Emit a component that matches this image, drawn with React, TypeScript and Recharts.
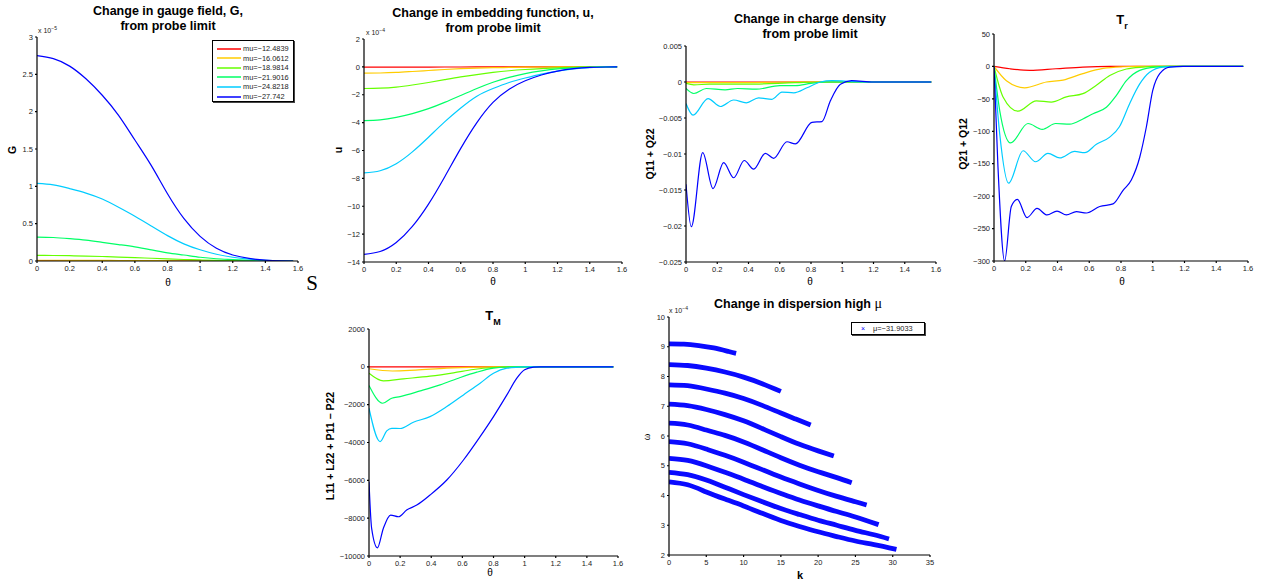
import React from 'react';
import { LineChart, Line, XAxis, YAxis } from 'recharts';

type Pt = [number, number];

// ---- shared --------------------------------------------------------------
const muLabels = ['mu=\u221212.4839', 'mu=\u221216.0612', 'mu=\u221218.9814', 'mu=\u221221.9016', 'mu=\u221224.8218', 'mu=\u221227.742'];
const muColors = ['#ff0000', '#ffcc00', '#66ff00', '#00ff66', '#00ccff', '#0000ff'];
const thetaTicks = [0, 0.2, 0.4, 0.6, 0.8, 1, 1.2, 1.4, 1.6];

// ---- panel 1: gauge field G (x 1e-5) ------------------------------------
const gTheta = [0, 0.1, 0.2, 0.3, 0.4, 0.5, 0.6, 0.7, 0.8, 0.9, 1.0, 1.1, 1.2, 1.3, 1.4, 1.5, 1.57];
const gRed = [0.001, 0.001, 0.001, 0.001, 0.001, 0.001, 0.001, 0.001, 0, 0, 0, 0, 0, 0, 0, 0, 0];
const gYellow = [0.01, 0.01, 0.009, 0.009, 0.008, 0.007, 0.006, 0.005, 0.004, 0.003, 0.002, 0.001, 0.001, 0, 0, 0, 0];
const gLime = [0.075, 0.074, 0.071, 0.066, 0.06, 0.053, 0.045, 0.037, 0.028, 0.02, 0.014, 0.009, 0.005, 0.002, 0.001, 0, 0];
const gGreen = [0.32, 0.315, 0.3, 0.28, 0.25, 0.22, 0.19, 0.15, 0.11, 0.08, 0.05, 0.03, 0.02, 0.01, 0.005, 0.001, 0];
const gCyan = [1.04, 1.02, 0.97, 0.91, 0.83, 0.72, 0.6, 0.47, 0.34, 0.23, 0.15, 0.09, 0.05, 0.025, 0.01, 0.003, 0];
const gBlue = [2.75, 2.71, 2.61, 2.44, 2.22, 1.95, 1.62, 1.28, 0.9, 0.57, 0.33, 0.17, 0.08, 0.035, 0.012, 0.003, 0];

// ---- panel 2: embedding function u (x 1e-4) -----------------------------
const uRed = [-0.02, -0.02, -0.02, -0.02, -0.015, -0.01, -0.01, -0.005, 0, 0, 0, 0, 0, 0, 0, 0, 0];
const uYellow = [-0.45, -0.44, -0.4, -0.33, -0.26, -0.19, -0.13, -0.09, -0.06, -0.04, -0.02, -0.01, 0, 0, 0, 0, 0];
const uLime = [-1.55, -1.53, -1.45, -1.3, -1.12, -0.92, -0.72, -0.55, -0.4, -0.28, -0.19, -0.12, -0.07, -0.03, -0.01, 0, 0];
const uGreen = [-3.85, -3.8, -3.62, -3.35, -3.0, -2.55, -2.05, -1.55, -1.1, -0.75, -0.48, -0.29, -0.15, -0.07, -0.025, -0.005, 0];
const uCyan = [-7.6, -7.45, -6.95, -6.1, -5.05, -3.95, -2.95, -2.1, -1.55, -1.12, -0.8, -0.52, -0.3, -0.14, -0.05, -0.01, 0];
const uBlue = [-13.45, -13.25, -12.6, -11.45, -9.85, -7.9, -5.85, -4.0, -2.55, -1.6, -1.0, -0.58, -0.3, -0.13, -0.04, -0.01, 0];

// ---- panel 3: charge density Q11 + Q22 ----------------------------------
const qRed: Pt[] = [[0, 0], [1.57, 0]];
const qYellow: Pt[] = [[0, -0.0001], [0.3, -0.0001], [0.7, 0], [1.57, 0]];
const qLime: Pt[] = [[0, -0.0002], [0.05, -0.0004], [0.15, -0.0003], [0.4, -0.0003], [0.7, -0.0001], [0.9, 0], [1.57, 0]];
const qGreen: Pt[] = [[0, -0.0009], [0.05, -0.0016], [0.13, -0.0009], [0.25, -0.0011], [0.33, -0.0009], [0.45, -0.001], [0.6, -0.0005], [0.7, -0.0005], [0.8, -0.0002], [0.9, 0], [1.57, 0]];
const qCyan: Pt[] = [[0, -0.003], [0.045, -0.0046], [0.141, -0.0023], [0.22, -0.0034], [0.305, -0.0025], [0.386, -0.0029], [0.465, -0.0022], [0.55, -0.0024], [0.614, -0.0014], [0.69, -0.0015], [0.774, -0.0008], [0.86, 0], [0.934, 0.0002], [1.03, 0.0001], [1.2, 0], [1.57, 0]];
const qBlue: Pt[] = [[0, -0.0142], [0.034, -0.0201], [0.107, -0.0098], [0.173, -0.0148], [0.241, -0.0112], [0.305, -0.0133], [0.373, -0.0109], [0.433, -0.0121], [0.508, -0.0099], [0.561, -0.0106], [0.646, -0.0083], [0.7, -0.0086], [0.806, -0.0056], [0.87, -0.0055], [0.924, -0.0026], [0.988, -0.0003], [1.06, 0.0002], [1.2, 0], [1.57, 0]];

// ---- panel 4: T_r  (Q21 + Q12) ------------------------------------------
const trRed: Pt[] = [[0, 0], [0.1, -3.6], [0.225, -6], [0.39, -3.6], [0.56, -1], [0.73, 0], [1.57, 0]];
const trYellow: Pt[] = [[0, 0], [0.078, -22], [0.193, -33], [0.33, -24], [0.435, -21], [0.56, -11], [0.687, -3], [0.81, -0.5], [0.9, 0], [1.57, 0]];
const trLime: Pt[] = [[0, 0], [0.057, -47], [0.151, -69], [0.267, -53], [0.361, -55], [0.456, -47], [0.56, -42], [0.645, -29], [0.729, -14], [0.834, -4], [0.94, -1], [1.0, 0], [1.57, 0]];
const trGreen: Pt[] = [[0, 0], [0.036, -68], [0.105, -118], [0.214, -88], [0.304, -97], [0.388, -88], [0.477, -89], [0.56, -81], [0.624, -73], [0.708, -63], [0.77, -45], [0.834, -22], [0.918, -6], [1.02, -1], [1.1, 0], [1.57, 0]];
const trCyan: Pt[] = [[0, 0], [0.036, -104], [0.092, -180], [0.183, -130], [0.262, -147], [0.34, -134], [0.414, -141], [0.508, -131], [0.571, -133], [0.645, -120], [0.729, -109], [0.79, -93], [0.855, -57], [0.918, -27], [0.98, -9], [1.065, -1], [1.2, 0], [1.57, 0]];
const trBlue: Pt[] = [[0, 0], [0.025, -155], [0.067, -300], [0.109, -216], [0.147, -205], [0.208, -233], [0.271, -219], [0.334, -229], [0.397, -223], [0.456, -229], [0.519, -224], [0.582, -226], [0.666, -216], [0.75, -212], [0.813, -191], [0.865, -175], [0.918, -140], [0.96, -93], [1.0, -37], [1.044, -11], [1.107, -1], [1.19, 0], [1.57, 0]];

// ---- panel 5: T_M  (L11 + L22 + P11 - P22) ------------------------------
const tmRed: Pt[] = [[0, 0], [1.57, 0]];
const tmYellow: Pt[] = [[0, -100], [0.15, -220], [0.3, -170], [0.5, -70], [0.7, -15], [0.8, 0], [1.57, 0]];
const tmLime: Pt[] = [[0, -335], [0.092, -741], [0.221, -635], [0.392, -494], [0.543, -318], [0.671, -141], [0.8, -35], [0.9, 0], [1.57, 0]];
const tmGreen: Pt[] = [[0, -988], [0.088, -1924], [0.146, -1659], [0.2, -1571], [0.33, -1271], [0.457, -953], [0.586, -565], [0.693, -282], [0.8, -70], [0.886, -10], [0.95, 0], [1.57, 0]];
const tmCyan: Pt[] = [[0, -2189], [0.071, -3954], [0.114, -3389], [0.146, -3248], [0.2, -3260], [0.285, -2930], [0.392, -2630], [0.5, -2100], [0.607, -1483], [0.714, -865], [0.8, -335], [0.886, -71], [0.97, -18], [1.0, 0], [1.57, 0]];
const tmBlue: Pt[] = [[0, -6072], [0.017, -8544], [0.054, -9568], [0.092, -8544], [0.139, -7838], [0.189, -7926], [0.242, -7573], [0.307, -7308], [0.392, -6778], [0.5, -5984], [0.607, -4925], [0.714, -3689], [0.8, -2630], [0.886, -1483], [0.95, -600], [1.0, -159], [1.057, -18], [1.1, 0], [1.57, 0]];

// ---- panel 6: dispersion branches (k, omega x 1e-4) ---------------------
const branch1: Pt[] = [[0, 9.1], [2, 9.09], [4, 9.04], [6, 8.96], [8, 8.84], [9, 8.78]];
const branch2: Pt[] = [[0, 8.4], [2.5, 8.37], [5, 8.28], [7.5, 8.15], [10, 7.98], [12.5, 7.76], [15, 7.5]];
const branch3: Pt[] = [[0, 7.72], [2.5, 7.69], [5, 7.58], [7.5, 7.44], [10, 7.26], [12.5, 7.03], [15, 6.77], [17, 6.57], [19, 6.37]];
const branch4: Pt[] = [[0, 7.07], [2.5, 7.02], [5, 6.89], [7.5, 6.72], [10, 6.51], [12.5, 6.25], [15, 5.98], [17.5, 5.72], [20, 5.5], [22.1, 5.33]];
const branch5: Pt[] = [[0, 6.43], [2.5, 6.37], [5, 6.2], [7.5, 6.02], [10, 5.8], [12.5, 5.54], [15, 5.27], [17.5, 5.02], [20, 4.8], [22.5, 4.6], [24.5, 4.43]];
const branch6: Pt[] = [[0, 5.81], [2.5, 5.74], [5, 5.56], [7.5, 5.35], [10, 5.12], [12.5, 4.87], [15, 4.62], [17.5, 4.39], [20, 4.17], [22.5, 3.97], [25, 3.79], [26.5, 3.68]];
const branch7: Pt[] = [[0, 5.25], [2.5, 5.18], [5, 5.0], [7.5, 4.78], [10, 4.55], [12.5, 4.3], [15, 4.07], [17.5, 3.85], [20, 3.65], [22.5, 3.46], [25, 3.28], [28.1, 3.02]];
const branch8: Pt[] = [[0, 4.78], [2.5, 4.7], [5, 4.52], [7.5, 4.28], [10, 4.03], [12.5, 3.79], [15, 3.56], [17.5, 3.36], [20, 3.17], [22.5, 3.0], [25, 2.83], [27.5, 2.68], [29.5, 2.54]];
const branch9: Pt[] = [[0, 4.46], [2.5, 4.36], [5, 4.12], [7.5, 3.88], [10, 3.65], [12.5, 3.4], [15, 3.16], [17.5, 2.96], [20, 2.78], [22.5, 2.62], [25, 2.47], [27.5, 2.35], [30.5, 2.19]];
const dispLabel = '\u03bc=\u221231.9033';

const FONT = '"Liberation Sans", Arial, Helvetica, sans-serif';
const SERIF = '"Liberation Serif", "DejaVu Serif", serif';

const zip = (xs: number[], ys: number[]): Pt[] => xs.map((x, i) => [x, ys[i]]);
const minus = (v: any) => String(v).replace('-', '\u2212');

interface Series { pts: Pt[]; color: string; width?: number }

interface PanelProps {
  px: number; py: number; pw: number; ph: number;
  xDomain: [number, number]; xTicks: number[];
  yDomain: [number, number]; yTicks: number[];
  series: Series[];
  curve?: 'monotone' | 'natural';
}

const ML = 60, MT = 20, MR = 12, MB = 24, YW = 40, XH = 20;

function Panel({ px, py, pw, ph, xDomain, xTicks, yDomain, yTicks, series, curve = 'monotone' }: PanelProps) {
  return (
    <div style={{ position: 'absolute', left: px - ML, top: py - MT }}>
      <LineChart
        width={pw + ML + MR}
        height={ph + MT + MB}
        margin={{ top: MT, right: MR, left: ML - YW, bottom: MB - XH }}
      >
        <XAxis
          type="number" dataKey="x" domain={xDomain} ticks={xTicks} allowDataOverflow
          height={XH} stroke="#000" strokeWidth={1.2} tickSize={2} tickMargin={3}
          tick={{ fontSize: 7.5, fill: '#222', fontFamily: FONT }} tickFormatter={minus}
        />
        <YAxis
          type="number" dataKey="y" domain={yDomain} ticks={yTicks} allowDataOverflow
          width={YW} stroke="#000" strokeWidth={1.2} tickSize={2} tickMargin={2}
          tick={{ fontSize: 7.5, fill: '#222', fontFamily: FONT }} tickFormatter={minus}
        />
        {series.map((s, i) => (
          <Line
            key={i}
            data={s.pts.map(([x, y]) => ({ x, y }))}
            dataKey="y"
            type={curve}
            stroke={s.color}
            strokeWidth={s.width ?? 1.2}
            dot={false}
            isAnimationActive={false}
          />
        ))}
      </LineChart>
    </div>
  );
}

function Txt({ x, y, size, bold, rotate, family, children }: any) {
  return (
    <div
      style={{
        position: 'absolute', left: x, top: y,
        transform: `translate(-50%, -50%)${rotate ? ' rotate(-90deg)' : ''}`,
        fontSize: size, fontWeight: bold ? 700 : 400, fontFamily: family || FONT,
        whiteSpace: 'nowrap', lineHeight: 1, color: '#000',
      }}
    >
      {children}
    </div>
  );
}

function Exp({ x, y, p }: { x: number; y: number; p: string }) {
  return (
    <div style={{ position: 'absolute', left: x, top: y - 5, fontFamily: FONT, fontSize: 7, color: '#222', whiteSpace: 'nowrap', lineHeight: 1 }}>
      x 10<span style={{ fontSize: 5, position: 'relative', top: -3 }}>{p}</span>
    </div>
  );
}

const bySeries = (sets: Pt[][]): Series[] => sets.map((pts, i) => ({ pts, color: muColors[i] }));

export default function App() {
  const gSeries = bySeries([gRed, gYellow, gLime, gGreen, gCyan, gBlue].map((v) => zip(gTheta, v)));
  const uSeries = bySeries([uRed, uYellow, uLime, uGreen, uCyan, uBlue].map((v) => zip(gTheta, v)));
  const qSeries = bySeries([qRed, qYellow, qLime, qGreen, qCyan, qBlue]);
  const trSeries = bySeries([trRed, trYellow, trLime, trGreen, trCyan, trBlue]);
  const tmSeries = bySeries([tmRed, tmYellow, tmLime, tmGreen, tmCyan, tmBlue]);
  const dSeries: Series[] = [branch1, branch2, branch3, branch4, branch5, branch6, branch7, branch8, branch9]
    .map((pts) => ({ pts, color: '#0a0aff', width: 4.8 }));

  return (
    <div style={{ position: 'absolute', left: 0, top: 0, width: 1271, height: 579, background: '#fff', overflow: 'hidden' }}>
      {/* panel 1 */}
      <Panel px={37} py={37} pw={261} ph={224} xDomain={[0, 1.6]} xTicks={thetaTicks}
        yDomain={[0, 3]} yTicks={[0, 0.5, 1, 1.5, 2, 2.5, 3]} series={gSeries} curve="natural" />
      <Txt x={168} y={11} size={12.5} bold>Change in gauge field, G,</Txt>
      <Txt x={168} y={26} size={12.5} bold>from probe limit</Txt>
      <Txt x={12} y={150} size={10.5} bold rotate>G</Txt>
      <Txt x={168} y={283} size={10}>θ</Txt>
      <Exp x={38} y={32} p="−5" />
      <div style={{ position: 'absolute', left: 212, top: 40, width: 80, height: 60, border: '1px solid #000', boxShadow: '1px 1px 0 #444', background: '#fff' }}>
        {muLabels.map((label, i) => (
          <div key={label} style={{ position: 'absolute', left: 4, top: 3 + i * 9.6, height: 9, display: 'flex', alignItems: 'center' }}>
            <svg width={24} height={4}><line x1={0} y1={2} x2={24} y2={2} stroke={muColors[i]} strokeWidth={1.5} /></svg>
            <span style={{ marginLeft: 2, fontFamily: FONT, fontSize: 7.4, color: '#222' }}>{label}</span>
          </div>
        ))}
      </div>
      <Txt x={312} y={283} size={21} family={SERIF}>S</Txt>

      {/* panel 2 */}
      <Panel px={364} py={39} pw={258} ph={223} xDomain={[0, 1.6]} xTicks={thetaTicks}
        yDomain={[-14, 2]} yTicks={[-14, -12, -10, -8, -6, -4, -2, 0, 2]} series={uSeries} curve="natural" />
      <Txt x={493} y={13} size={12.5} bold>Change in embedding function, u,</Txt>
      <Txt x={493} y={28} size={12.5} bold>from probe limit</Txt>
      <Txt x={338} y={150} size={10.5} bold rotate>u</Txt>
      <Txt x={493} y={282} size={10}>θ</Txt>
      <Exp x={366} y={34} p="−4" />

      {/* panel 3 */}
      <Panel px={686} py={46} pw={250} ph={216} xDomain={[0, 1.6]} xTicks={thetaTicks}
        yDomain={[-0.025, 0.005]} yTicks={[-0.025, -0.02, -0.015, -0.01, -0.005, 0, 0.005]} series={qSeries} />
      <Txt x={810} y={19} size={12.5} bold>Change in charge density</Txt>
      <Txt x={810} y={34} size={12.5} bold>from probe limit</Txt>
      <Txt x={650} y={154} size={10.5} bold rotate>Q11 + Q22</Txt>
      <Txt x={810} y={282} size={10}>θ</Txt>

      {/* panel 4 */}
      <Panel px={994} py={34} pw={254} ph={227} xDomain={[0, 1.6]} xTicks={thetaTicks}
        yDomain={[-300, 50]} yTicks={[-300, -250, -200, -150, -100, -50, 0, 50]} series={trSeries} />
      <Txt x={1122} y={19} size={13} bold>T<span style={{ fontSize: 9, position: 'relative', top: 5 }}>r</span></Txt>
      <Txt x={963} y={144} size={10.5} bold rotate>Q21 + Q12</Txt>
      <Txt x={1122} y={282} size={10}>θ</Txt>

      {/* panel 5 */}
      <Panel px={369} py={329} pw={249} ph={227} xDomain={[0, 1.6]} xTicks={thetaTicks}
        yDomain={[-10000, 2000]} yTicks={[-10000, -8000, -6000, -4000, -2000, 0, 2000]} series={tmSeries} />
      <Txt x={493} y={315} size={13} bold>T<span style={{ fontSize: 9, position: 'relative', top: 5 }}>M</span></Txt>
      <Txt x={330} y={446} size={10.5} bold rotate>L11 + L22 + P11 − P22</Txt>
      <Txt x={490} y={573} size={10}>θ</Txt>

      {/* panel 6 */}
      <Panel px={669} py={317} pw={261} ph={238} xDomain={[0, 35]} xTicks={[0, 5, 10, 15, 20, 25, 30, 35]}
        yDomain={[2, 10]} yTicks={[2, 3, 4, 5, 6, 7, 8, 9, 10]} series={dSeries} curve="natural" />
      <Txt x={798} y={304} size={12.5} bold>Change in dispersion high <span style={{ fontFamily: SERIF, fontWeight: 400, fontSize: 14 }}>μ</span></Txt>
      <Txt x={647} y={437} size={10} rotate family={SERIF}>ω</Txt>
      <Txt x={800} y={575} size={11} bold>k</Txt>
      <Exp x={669} y={312} p="−4" />
      <div style={{ position: 'absolute', left: 851, top: 322, width: 72, height: 11, border: '1px solid #000', boxShadow: '1px 1px 0 #444', background: '#fff' }}>
        <div style={{ position: 'absolute', left: 9, top: 1, fontSize: 7, color: '#00f', fontFamily: FONT, lineHeight: '9px' }}>×</div>
        <div style={{ position: 'absolute', left: 21, top: 1, fontSize: 7.4, color: '#222', fontFamily: FONT, lineHeight: '9px' }}>{dispLabel}</div>
      </div>
    </div>
  );
}
